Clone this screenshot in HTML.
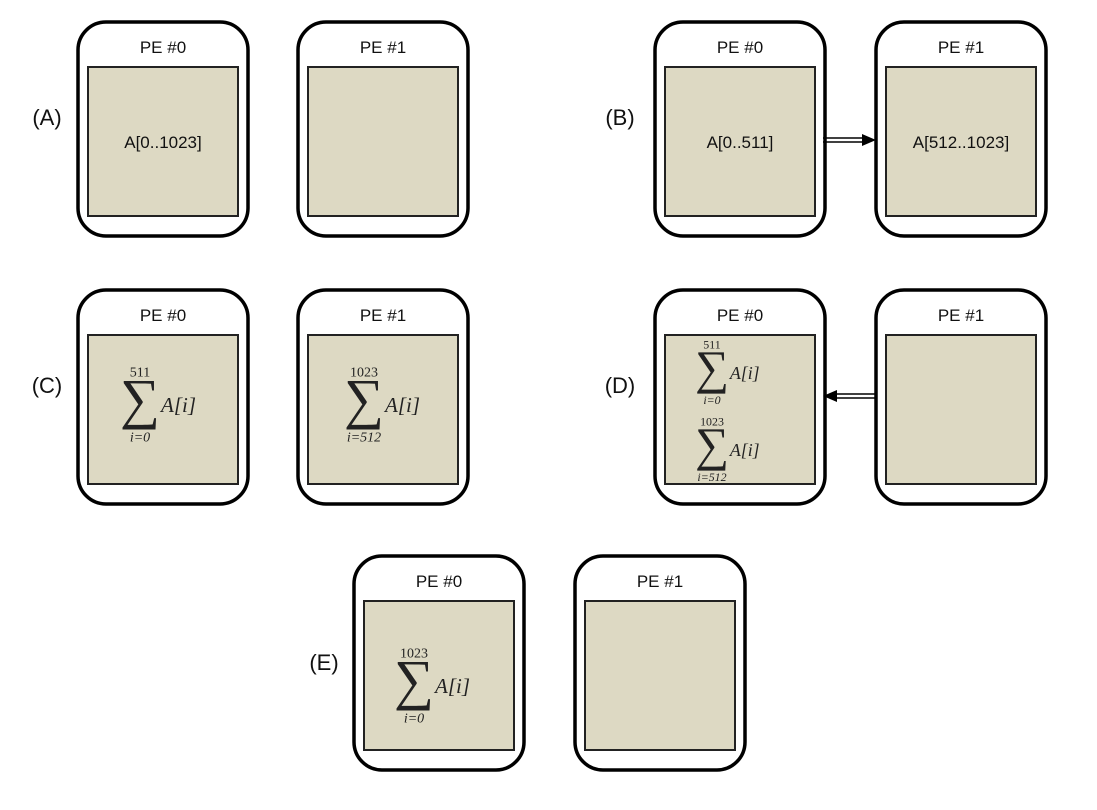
<!DOCTYPE html>
<html><head><meta charset="utf-8"><style>
body{margin:0;background:#fff;}
svg{display:block;font-family:"Liberation Sans",sans-serif;}
.pl{font-size:22px;fill:#111;}
.pe{font-size:17px;fill:#111;}
.m{font-family:"Liberation Serif",serif;fill:#222;}
</style></head><body>
<svg width="1097" height="810" viewBox="0 0 1097 810">
<g id="root"></g>
</svg>
<script>
const root=document.getElementById('root');
const NS='http://www.w3.org/2000/svg';
function mk(tag,attrs,parent,name){const e=document.createElementNS(NS,tag);for(const k in attrs)e.setAttribute(k,attrs[k]);


(parent||root).appendChild(e);return e;}
function pe(x,y,label,name){
 const g=mk('g',{},root,name);
 mk('rect',{x:x,y:y,width:170,height:214,rx:28,fill:'#fff',stroke:'#000','stroke-width':3.5},g,'pe-outline');
 const t=mk('text',{x:x+85,y:y+31,'text-anchor':'middle',class:'pe'},g,'pe-title');t.textContent=label;
 mk('rect',{x:x+10,y:y+45,width:150,height:149,fill:'#ddd9c3',stroke:'#222','stroke-width':2},g,'memory-box');
 return g;}
function txt(x,y,s,cls,size,name,anchor,italic){const t=mk('text',{x:x,y:y,class:cls,'font-size':size,'text-anchor':anchor||'start'},root,name);if(italic)t.setAttribute('font-style','italic');t.textContent=s;return t;}
function sum(cx,cy,top,bot,name,k){
 k=k||1;
 const fs=56*k, h=fs*0.84;
 const base=cy+h/2-fs*0.18;
 txt(cx,cy-h/2-4*k,top,'m',14*k,name+'-upper','middle');
 txt(cx,base,'∑','m',fs,name+'-sigma','middle');
 txt(cx,cy+h/2+14*k,bot,'m',14*k,name+'-lower','middle',true);
 txt(cx+21*k,cy+8*k,'A[i]','m',21*k,name+'-term','start',true);
}
[['(A)',47,125],['(B)',620,125],['(C)',47,393],['(D)',620,393],['(E)',324,670]].forEach(p=>txt(p[1],p[2],p[0],'pl',22,'panel-label-'+p[0][1].toLowerCase(),'middle'));
// A
pe(78,22,'PE #0','a-pe0');pe(298,22,'PE #1','a-pe1');
txt(163,148,'A[0..1023]','pe',18,'a-array','middle');
// B
pe(655,22,'PE #0','b-pe0');pe(876,22,'PE #1','b-pe1');
txt(740,148,'A[0..511]','pe',18,'b-array-left','middle');
txt(961,148,'A[512..1023]','pe',18,'b-array-right','middle');
mk('line',{x1:823,y1:138,x2:864,y2:138,stroke:'#000','stroke-width':1.5},root,'b-arrow-line1');
mk('line',{x1:823,y1:142,x2:864,y2:142,stroke:'#000','stroke-width':1.5},root,'b-arrow-line2');
mk('polygon',{points:'876,140 862,134 862,146',fill:'#000'},root,'b-arrow-head');
// C
pe(78,290,'PE #0','c-pe0');pe(298,290,'PE #1','c-pe1');
sum(140,404,'511','i=0','c-sum0');
sum(364,404,'1023','i=512','c-sum1');
// D
pe(655,290,'PE #0','d-pe0');pe(876,290,'PE #1','d-pe1');
sum(712,372,'511','i=0','d-sum0',0.85);
sum(712,449,'1023','i=512','d-sum1',0.85);
mk('line',{x1:837,y1:394,x2:877,y2:394,stroke:'#000','stroke-width':1.5},root,'d-arrow-line1');
mk('line',{x1:837,y1:398,x2:877,y2:398,stroke:'#000','stroke-width':1.5},root,'d-arrow-line2');
mk('polygon',{points:'823,396 837,390 837,402',fill:'#000'},root,'d-arrow-head');
// E
pe(354,556,'PE #0','e-pe0');pe(575,556,'PE #1','e-pe1');
sum(414,685,'1023','i=0','e-sum');
</script>
</body></html>
